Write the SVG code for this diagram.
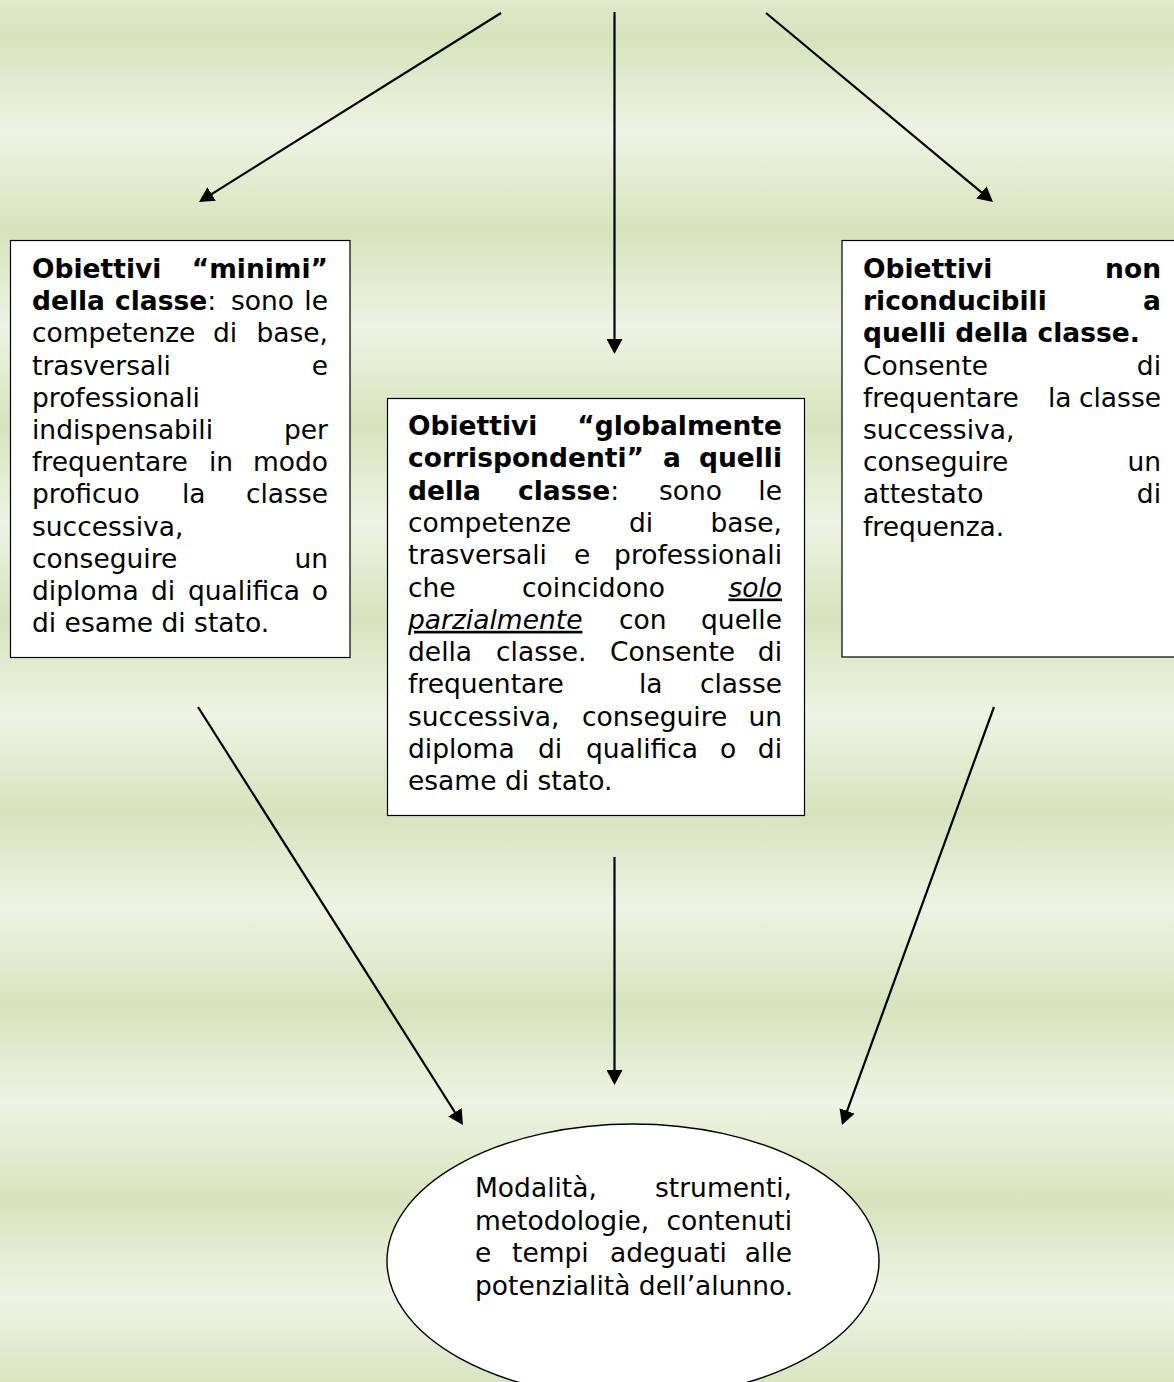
<svg xmlns="http://www.w3.org/2000/svg" width="1174" height="1382" viewBox="0 0 1174 1382">
  <defs>
    <!-- banded green page background -->
    <linearGradient id="bands" gradientUnits="userSpaceOnUse" x1="0" y1="36" x2="0" y2="133" spreadMethod="reflect">
      <stop offset="0" stop-color="#d6e3bc"/>
      <stop offset="1" stop-color="#eef3e3"/>
    </linearGradient>
    <marker id="head" markerUnits="userSpaceOnUse" markerWidth="16" markerHeight="16" refX="2" refY="8" orient="auto">
      <path d="M0,0 L15,8 L0,16 z" fill="#000"/>
    </marker>
    <style>
      .t { font-family: "DejaVu Sans", Verdana, sans-serif; font-size: 26.5px; fill: #000; }
      .b { font-weight: bold; }
      .e { text-anchor: end; }
      .u { font-style: italic; text-decoration: underline; }
      .box { fill: #fff; stroke: #000; stroke-width: 1.2; }
      .arrow { stroke: #000; stroke-width: 2.2; fill: none; marker-end: url(#head); }
    </style>
  </defs>

  <rect x="0" y="0" width="1174" height="1382" fill="url(#bands)"/>

  <g id="connectors">
    <line class="arrow" x1="501" y1="13" x2="210.0" y2="195.1"/>
    <line class="arrow" x1="614.5" y1="12" x2="614.5" y2="341"/>
    <line class="arrow" x1="766" y1="13" x2="983.0" y2="193.7"/>
    <line class="arrow" x1="198" y1="707" x2="456.0" y2="1114.0"/>
    <line class="arrow" x1="614.5" y1="857" x2="614.5" y2="1072"/>
    <line class="arrow" x1="994" y1="707" x2="846.4" y2="1112.8"/>
  </g>

  <g id="minimi">
    <rect class="box" x="10.5" y="240.5" width="339.5" height="417"/>
    <g class="t">
      <text class="b" x="32" y="278">Obiettivi</text>
      <text class="b e" x="328" y="278">“minimi”</text>
      <text class="b" x="32" y="310.2">della</text>
      <text x="115" y="310.2"><tspan class="b">classe</tspan>:</text>
      <text x="231" y="310.2">sono</text>
      <text class="e" x="328" y="310.2">le</text>
      <text x="32" y="342.4">competenze</text>
      <text x="213" y="342.4">di</text>
      <text class="e" x="328" y="342.4">base,</text>
      <text x="32" y="374.6">trasversali</text>
      <text class="e" x="328" y="374.6">e</text>
      <text x="32" y="406.8">professionali</text>
      <text x="32" y="439">indispensabili</text>
      <text class="e" x="328" y="439">per</text>
      <text x="32" y="471.2">frequentare</text>
      <text x="209" y="471.2">in</text>
      <text class="e" x="328" y="471.2">modo</text>
      <text x="32" y="503.4">proficuo</text>
      <text x="182" y="503.4">la</text>
      <text class="e" x="328" y="503.4">classe</text>
      <text x="32" y="535.6">successiva,</text>
      <text x="32" y="567.8">conseguire</text>
      <text class="e" x="328" y="567.8">un</text>
      <text x="32" y="600">diploma</text>
      <text x="151" y="600">di</text>
      <text x="188" y="600">qualifica</text>
      <text class="e" x="328" y="600">o</text>
      <text x="32" y="632.2">di esame di stato.</text>
    </g>
  </g>

  <g id="globalmente">
    <rect class="box" x="387.5" y="398.5" width="417" height="417"/>
    <g class="t">
      <text class="b" x="408" y="435">Obiettivi</text>
      <text class="b e" x="782" y="435">“globalmente</text>
      <text class="b" x="408" y="467.3">corrispondenti”</text>
      <text class="b" x="663" y="467.3">a</text>
      <text class="b e" x="782" y="467.3">quelli</text>
      <text class="b" x="408" y="499.6">della</text>
      <text x="518" y="499.6"><tspan class="b">classe</tspan>:</text>
      <text x="659" y="499.6">sono</text>
      <text class="e" x="782" y="499.6">le</text>
      <text x="408" y="531.9">competenze</text>
      <text x="629" y="531.9">di</text>
      <text class="e" x="782" y="531.9">base,</text>
      <text x="408" y="564.2">trasversali</text>
      <text x="574" y="564.2">e</text>
      <text class="e" x="782" y="564.2">professionali</text>
      <text x="408" y="596.5">che</text>
      <text x="522" y="596.5">coincidono</text>
      <text class="u e" x="782" y="596.5">solo</text>
      <text class="u" x="408" y="628.8">parzialmente</text>
      <text x="619" y="628.8">con</text>
      <text class="e" x="782" y="628.8">quelle</text>
      <text x="408" y="661.1">della</text>
      <text x="496" y="661.1">classe.</text>
      <text x="610" y="661.1">Consente</text>
      <text class="e" x="782" y="661.1">di</text>
      <text x="408" y="693.4">frequentare</text>
      <text x="639" y="693.4">la</text>
      <text class="e" x="782" y="693.4">classe</text>
      <text x="408" y="725.7">successiva,</text>
      <text x="582" y="725.7">conseguire</text>
      <text class="e" x="782" y="725.7">un</text>
      <text x="408" y="758">diploma</text>
      <text x="538" y="758">di</text>
      <text x="586" y="758">qualifica</text>
      <text x="720" y="758">o</text>
      <text class="e" x="782" y="758">di</text>
      <text x="408" y="790.3">esame di stato.</text>
    </g>
  </g>

  <g id="non-riconducibili">
    <rect class="box" x="842" y="240.5" width="340" height="416.5"/>
    <g class="t">
      <text class="b" x="863" y="278">Obiettivi</text>
      <text class="b e" x="1161" y="278">non</text>
      <text class="b" x="863" y="310.2">riconducibili</text>
      <text class="b e" x="1161" y="310.2">a</text>
      <text class="b" x="863" y="342.4">quelli della classe.</text>
      <text x="863" y="374.6">Consente</text>
      <text class="e" x="1161" y="374.6">di</text>
      <text x="863" y="406.8">frequentare</text>
      <text x="1048" y="406.8">la</text>
      <text class="e" x="1161" y="406.8">classe</text>
      <text x="863" y="439">successiva,</text>
      <text x="863" y="471.2">conseguire</text>
      <text class="e" x="1161" y="471.2">un</text>
      <text x="863" y="503.4">attestato</text>
      <text class="e" x="1161" y="503.4">di</text>
      <text x="863" y="535.6">frequenza.</text>
    </g>
  </g>

  <g id="modalita">
    <ellipse cx="633" cy="1261" rx="246" ry="137" fill="#fff" stroke="#000" stroke-width="1.4"/>
    <g class="t">
      <text x="475" y="1197">Modalità,</text>
      <text class="e" x="792" y="1197">strumenti,</text>
      <text x="475" y="1229.5">metodologie,</text>
      <text class="e" x="792" y="1229.5">contenuti</text>
      <text x="475" y="1262">e</text>
      <text x="512" y="1262">tempi</text>
      <text x="610" y="1262">adeguati</text>
      <text class="e" x="792" y="1262">alle</text>
      <text x="475" y="1294.5">potenzialità dell’alunno.</text>
    </g>
  </g>
</svg>
